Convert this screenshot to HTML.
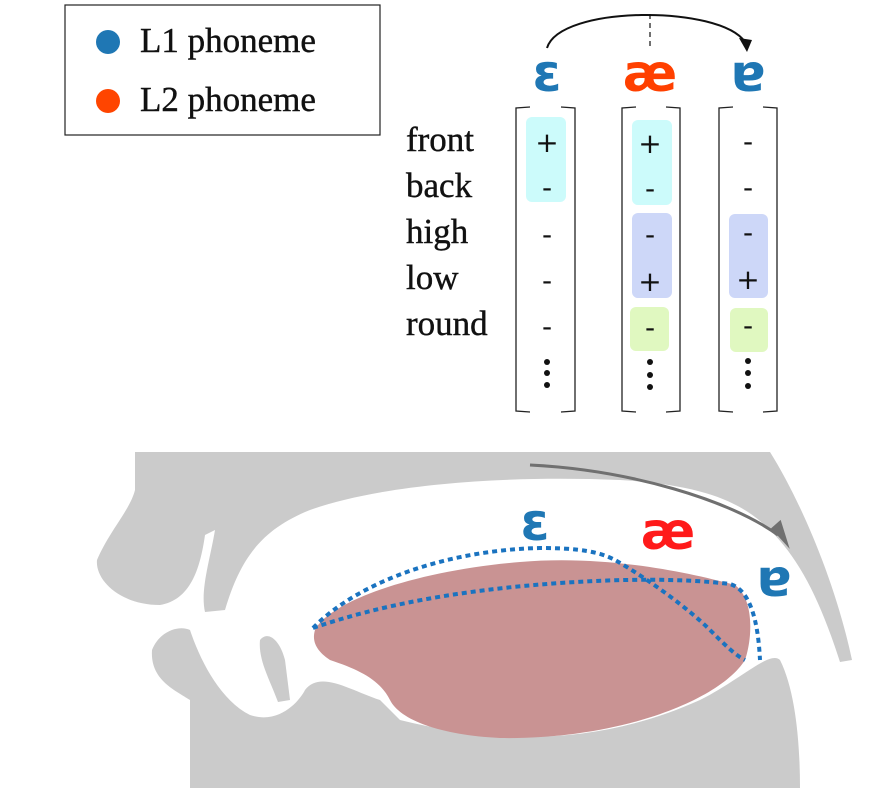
<!DOCTYPE html>
<html><head><meta charset="utf-8"><style>
body{margin:0;background:#fff;width:891px;height:788px;overflow:hidden}
svg{display:block}
.lbl{font-family:"Liberation Serif",serif;font-size:35px;fill:#111;stroke:#111;stroke-width:0.4}
.sym{font-family:"DejaVu Sans",sans-serif;font-weight:bold;font-size:52px}
.pm{font-family:"DejaVu Sans",sans-serif;font-size:28px;fill:#111;text-anchor:middle}
</style></head><body>
<svg width="891" height="788" viewBox="0 0 891 788">
<g>
<rect x="65" y="5" width="315" height="130" fill="#fff" stroke="#222" stroke-width="1.2"/>
<circle cx="108" cy="42" r="12" fill="#1f77b4"/>
<text x="140" y="52" class="lbl" font-size="32">L1 phoneme</text>
<circle cx="108" cy="101" r="12" fill="#ff4500"/>
<text x="140" y="111" class="lbl" font-size="32">L2 phoneme</text>
</g>
<g>
<text x="406" y="151" class="lbl">front</text>
<text x="406" y="197" class="lbl">back</text>
<text x="406" y="243" class="lbl">high</text>
<text x="406" y="289" class="lbl">low</text>
<text x="406" y="335" class="lbl">round</text>
</g>
<path d="M547 48 C560 5 720 5 745 42" fill="none" stroke="#111" stroke-width="2"/>
<path d="M739 38 L752 40 L747 52 Z" fill="#111"/>
<line x1="650" y1="14" x2="650" y2="48" stroke="#111" stroke-width="1.2" stroke-dasharray="5,4"/>
<text x="547" y="91" class="sym" fill="#1f77b4" text-anchor="middle">ɛ</text>
<text x="650" y="91" class="sym" fill="#ff4000" text-anchor="middle">æ</text>
<text x="748" y="91" class="sym" fill="#1f77b4" text-anchor="middle">ɐ</text>
<g>
<rect x="526" y="117" width="40" height="85" rx="6" fill="#ccfbfb"/>
<rect x="632" y="120" width="40" height="85" rx="6" fill="#ccfbfb"/>
<rect x="632" y="213" width="40" height="85" rx="6" fill="#cdd7f8"/>
<rect x="630" y="307" width="39" height="44" rx="6" fill="#e0f8c0"/>
<rect x="729" y="214" width="39" height="84" rx="6" fill="#cdd7f8"/>
<rect x="730" y="308" width="38" height="44" rx="6" fill="#e0f8c0"/>
</g>
<g fill="none" stroke="#222" stroke-width="1.3">
<path d="M530 107 L516 108 L516 411 L530 412 M561 107 L575 108 L575 411 L561 412"/>
<path d="M636 107 L622 108 L622 411 L636 412 M666 107 L680 108 L680 411 L666 412"/>
<path d="M733 107 L719 108 L719 411 L733 412 M763 107 L777 108 L777 411 L763 412"/>
</g>
<g>
<text x="547" y="152" class="pm">+</text><text x="547" y="197" class="pm">-</text><text x="547" y="244" class="pm">-</text><text x="547" y="290" class="pm">-</text><text x="547" y="336" class="pm">-</text>
<text x="650" y="153" class="pm">+</text><text x="650" y="198" class="pm">-</text><text x="650" y="244" class="pm">-</text><text x="650" y="291" class="pm">+</text><text x="650" y="337" class="pm">-</text>
<text x="748" y="151" class="pm">-</text><text x="748" y="197" class="pm">-</text><text x="748" y="242" class="pm">-</text><text x="748" y="289" class="pm">+</text><text x="748" y="335" class="pm">-</text>
</g>
<g fill="#111">
<circle cx="547" cy="362" r="3"/><circle cx="547" cy="373" r="3"/><circle cx="547" cy="385" r="3"/>
<circle cx="650" cy="362" r="3"/><circle cx="650" cy="375" r="3"/><circle cx="650" cy="387" r="3"/>
<circle cx="748" cy="361" r="3"/><circle cx="748" cy="373" r="3"/><circle cx="748" cy="386" r="3"/>
</g>
<g fill="#cbcbcb">
<path d="M135 452 L770 452 C800 500 835 580 852 660 L840 662 C820 600 800 560 770 530 C740 500 700 485 620 480 C500 475 380 485 310 510 C260 530 240 560 225 610 L205 612 C200 590 210 560 215 530 L205 535 C200 570 190 600 160 605 C120 605 95 580 97 560 C110 530 130 510 135 490 Z"/>
<path d="M190 700 C175 690 150 680 152 650 C160 630 180 625 190 630 C200 660 220 700 250 715 C280 725 300 700 305 690 C320 670 350 690 380 700 L400 720 C500 745 600 745 700 700 C740 680 770 650 780 660 C795 690 800 740 800 788 L190 788 Z"/>
<path d="M260 640 C268 630 280 640 285 660 L290 700 L278 702 C270 680 258 660 260 640 Z"/>
</g>
<path d="M315 630 C330 600 420 570 520 562 C600 555 680 570 735 585 C755 600 752 640 745 660 C720 700 620 740 500 738 C440 735 400 720 390 700 C380 680 360 670 330 660 C315 650 312 640 315 630 Z" fill="#c99393"/>
<g fill="none" stroke="#1a73c0" stroke-width="4" stroke-dasharray="5,4">
<path d="M313 628 C360 580 450 550 540 548 C580 548 600 552 615 560 C650 580 690 610 710 630 C725 645 735 655 745 660"/>
<path d="M313 628 C380 605 460 590 560 583 C620 579 680 578 730 584 C750 590 758 620 760 660"/>
</g>
<path d="M530 465 C630 470 730 500 778 535" fill="none" stroke="#707070" stroke-width="3"/>
<path d="M770 530 L792 547 L778 520 Z" fill="#707070" transform="rotate(10 780 535)"/>
<text x="535" y="540" class="sym" font-size="40" fill="#1f77b4" text-anchor="middle">ɛ</text>
<text x="668" y="549" class="sym" font-size="42" fill="#ff1a1a" text-anchor="middle">æ</text>
<text x="774" y="596" class="sym" font-size="40" fill="#1f77b4" text-anchor="middle">ɐ</text>
</svg>
</body></html>
